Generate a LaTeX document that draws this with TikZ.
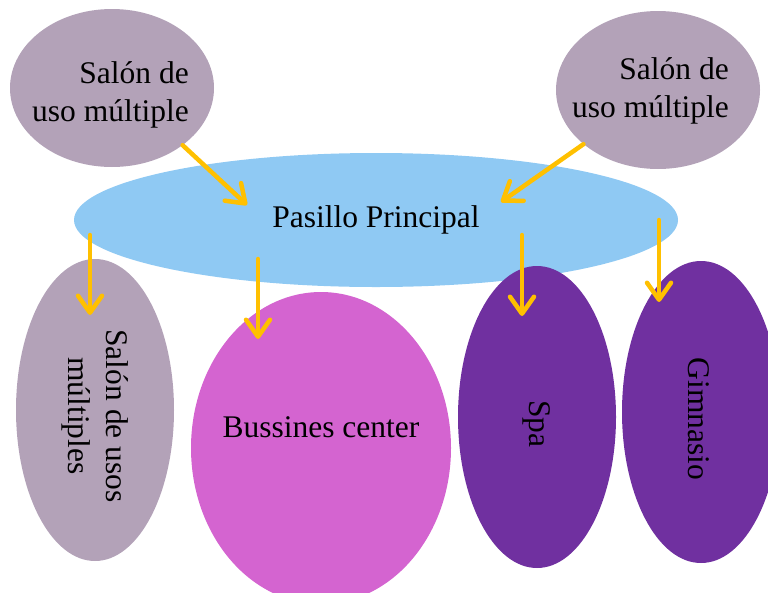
\documentclass[tikz,border=0pt]{standalone}
\usepackage{fontspec}
\setmainfont{Liberation Serif}
\usetikzlibrary{shapes.geometric,arrows.meta}
\definecolor{roomgrey}{RGB}{179,162,184}
\definecolor{hallblue}{RGB}{143,201,243}
\definecolor{bizpink}{RGB}{212,100,208}
\definecolor{spapurple}{RGB}{112,48,160}
\definecolor{linkgold}{RGB}{255,192,0}
\newcommand\roomfont{\fontsize{31.5}{38}\selectfont}
\tikzset{
  room/.style={ellipse, draw=none, inner sep=0pt, font=\roomfont},
  txt/.style={font=\roomfont, align=center, inner sep=0pt},
  link/.style={draw=linkgold, line width=4.5pt, line cap=round,
    -{Straight Barb[round, length=17pt, width=24pt]}},
}
\begin{document}
\begin{tikzpicture}[x=1pt,y=-1pt]
\useasboundingbox (0,0) rectangle (768,592);
% corridor
\node[room, fill=hallblue, minimum width=604pt, minimum height=134pt] (pasillo) at (376,220) {Pasillo Principal};
% rooms on top
\node[room, fill=roomgrey, minimum width=204pt, minimum height=158pt,
  label={[txt, align=right, xshift=-1.5pt, yshift=-7pt]center:Salón de\\uso múltiple}] (salonA) at (112,88) {};
\node[room, fill=roomgrey, minimum width=204pt, minimum height=158pt,
  label={[txt, align=right, xshift=-7.5pt, yshift=-1pt]center:Salón de\\uso múltiple}] (salonB) at (658,90) {};
% rooms below
\node[room, fill=roomgrey, minimum width=158pt, minimum height=302pt,
  label={[txt, yshift=-6pt, rotate=-90]center:Salón de usos\\múltiples}] (salones) at (95,410) {};
\node[room, fill=bizpink, minimum width=260pt, minimum height=312pt,
  label={[txt, yshift=20.5pt]center:Bussines center}] (bussines) at (321,448) {};
\node[room, fill=spapurple, minimum width=158pt, minimum height=302pt,
  label={[txt, yshift=-7pt, rotate=-90]center:Spa}] (spa) at (537,417) {};
\node[room, fill=spapurple, minimum width=158pt, minimum height=302pt,
  label={[txt, xshift=-2pt, yshift=-7pt, rotate=-90]center:Gimnasio}] (gimnasio) at (701,412) {};
% arrows
\draw[link] (salonA.-39) -- ([shift={(-129,-15)}]pasillo.center);
\draw[link] (salonB.216) -- ([shift={(125,-18)}]pasillo.center);
\foreach \dx/\dy/\target/\tx/\ty in {-286/15/salones/-5/-95, -118/39/bussines/-63/-109,
    146/15/spa/-15/-101, 283/0/gimnasio/-42/-110}
  \draw[link] ([shift={(\dx,\dy)}]pasillo.center) -- ([shift={(\tx,\ty)}]\target.center);
\end{tikzpicture}
\end{document}
